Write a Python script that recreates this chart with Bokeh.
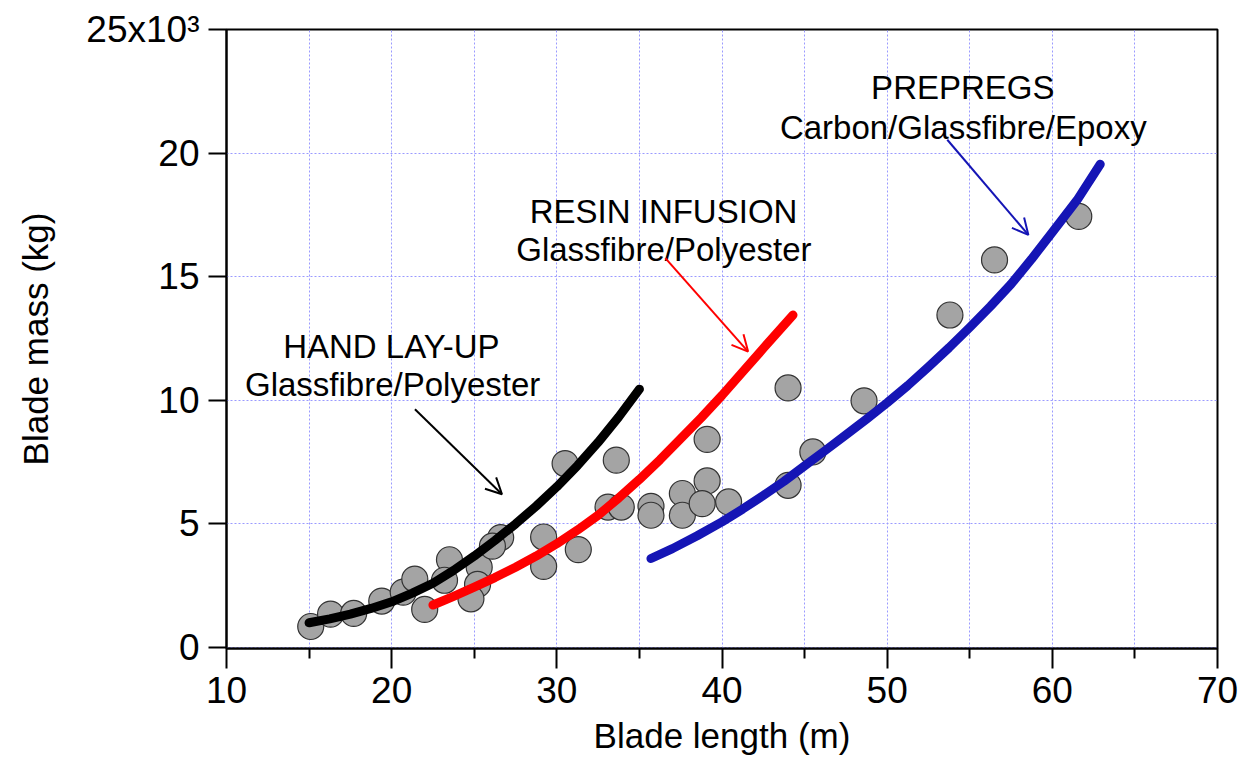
from bokeh.plotting import figure
from bokeh.models import Range1d, FixedTicker, Label, Arrow, OpenHead
from bokeh.embed import file_html
from bokeh.resources import INLINE

# ---- data (blade length in m, blade mass in thousands of kg) ----
pts_len = [15.1, 16.3, 17.7, 19.4, 20.7, 21.4, 22.0, 23.5, 23.2, 25.3, 25.2, 24.8,
           26.6, 26.1, 29.2, 29.2, 31.3, 30.5, 33.6, 33.1, 33.9, 35.7, 35.7, 37.6,
           37.6, 39.1, 38.8, 40.4, 39.1, 44.0, 48.6, 45.5, 44.0, 53.8, 56.5, 61.6]
pts_mass = [0.85, 1.35, 1.38, 1.88, 2.24, 2.77, 1.54, 3.55, 2.72, 3.25, 2.55, 1.97,
            4.45, 4.1, 4.47, 3.28, 3.96, 7.44, 7.58, 5.68, 5.68, 5.71, 5.35, 6.23,
            5.35, 6.74, 5.82, 5.89, 8.42, 10.5, 9.98, 7.91, 6.56, 13.45, 15.68, 17.44]

hand_len = [15.0, 16.25, 17.5, 18.75, 20.0, 21.25, 22.5, 23.75, 25.0, 26.25, 27.5,
            28.75, 30.0, 31.25, 32.5, 33.75, 35.0]
hand_mass = [1.0, 1.16, 1.35, 1.58, 1.85, 2.2, 2.6, 3.12, 3.7, 4.33, 5.0,
             5.72, 6.5, 7.36, 8.3, 9.33, 10.45]

resin_len = [22.5, 23.75, 25.0, 26.25, 27.5, 28.75, 30.0, 31.25, 32.5, 33.75, 35.0,
             36.25, 37.5, 38.75, 40.0, 41.25, 42.5, 44.3]
resin_mass = [1.72, 2.07, 2.44, 2.83, 3.25, 3.7, 4.2, 4.75, 5.35, 6.05, 6.8,
              7.6, 8.45, 9.3, 10.2, 11.15, 12.1, 13.45]

prepreg_len = [35.7, 37.0, 38.5, 40.0, 41.25, 42.5, 43.75, 45.0, 46.25, 47.5, 48.75, 50.0,
               51.25, 52.5, 53.75, 55.0, 56.25, 57.5, 58.75, 60.0, 61.5, 62.9]
prepreg_mass = [3.6, 4.0, 4.52, 5.08, 5.6, 6.15, 6.72, 7.35, 7.97, 8.6, 9.24, 9.9,
                10.6, 11.35, 12.13, 12.95, 13.8, 14.7, 15.72, 16.8, 18.1, 19.55]

x_ticks = [10, 20, 30, 40, 50, 60, 70]
x_minor = [15, 25, 35, 45, 55, 65]
y_ticks = [0, 5, 10, 15, 20, 25]
y_tick_labels = {0: "0", 5: "5", 10: "10", 15: "15", 20: "20", 25: "25x10\u00b3"}

FONT = "Liberation Sans"
BLUE = "#1515b5"
RED = "#ff0000"
GRID = "#9a9aff"

p = figure(width=1238, height=764, output_backend="svg", toolbar_location=None,
           x_range=Range1d(10, 70), y_range=Range1d(-0.04, 25),
           min_border_left=226, min_border_right=21, min_border_top=29,
           min_border_bottom=116)
p.background_fill_color = "white"
p.border_fill_color = "white"
p.outline_line_color = "black"
p.outline_line_width = 2

# axes
p.xaxis.ticker = FixedTicker(ticks=x_ticks, minor_ticks=x_minor)
p.yaxis.ticker = FixedTicker(ticks=y_ticks)
p.yaxis.major_label_overrides = y_tick_labels
for ax in (p.xaxis[0], p.yaxis[0]):
    ax.axis_line_color = "black"
    ax.axis_line_width = 2
    ax.major_tick_line_color = "black"
    ax.major_tick_line_width = 2
    ax.major_tick_in = 0
    ax.minor_tick_in = 0
    ax.major_label_text_font = FONT
    ax.major_label_text_font_size = "37px"
    ax.major_label_text_color = "black"
    ax.axis_label_text_font = FONT
    ax.axis_label_text_font_size = "35px"
    ax.axis_label_text_font_style = "normal"
    ax.axis_label_text_color = "black"
p.xaxis.major_tick_out = 20
p.xaxis.minor_tick_out = 10
p.xaxis.minor_tick_line_color = "black"
p.xaxis.minor_tick_line_width = 2
p.xaxis.major_label_standoff = 8
p.xaxis.axis_label = "Blade length (m)"
p.xaxis.axis_label_standoff = 10
p.yaxis.major_tick_out = 18
p.yaxis.minor_tick_line_color = None
p.yaxis.major_label_standoff = 9
p.yaxis.axis_label = "Blade mass (kg)"
p.yaxis.axis_label_standoff = 28

# grid
p.xgrid.grid_line_color = GRID
p.xgrid.grid_line_dash = "2 2"
p.xgrid.grid_line_width = 1
p.xgrid.minor_grid_line_color = GRID
p.xgrid.minor_grid_line_dash = "2 2"
p.xgrid.minor_grid_line_width = 1
p.ygrid.grid_line_color = GRID
p.ygrid.grid_line_dash = "2 2"
p.ygrid.grid_line_width = 1

# data points
p.scatter(pts_len, pts_mass, size=26, fill_color="#a4a4a4", line_color="#333333",
          line_width=1.2)

# fitted curves
p.line(hand_len, hand_mass, line_color="black", line_width=9, line_cap="round", line_join="round")
p.line(resin_len, resin_mass, line_color=RED, line_width=9, line_cap="round", line_join="round")
p.line(prepreg_len, prepreg_mass, line_color=BLUE, line_width=9, line_cap="round", line_join="round")

# annotation texts
def txt(x, y, s, size="33px"):
    p.add_layout(Label(x=x, y=y, text=s, text_font=FONT, text_font_size=size,
                       text_align="center", text_baseline="alphabetic",
                       text_color="black"))

txt(19.98, 12.17, "HAND LAY-UP")
txt(20.06, 10.62, "Glassfibre/Polyester")
txt(36.46, 17.64, "RESIN INFUSION")
txt(36.48, 16.09, "Glassfibre/Polyester")
txt(54.58, 22.65, "PREPREGS")
txt(54.61, 21.03, "Carbon/Glassfibre/Epoxy")

# arrows
def arr(x0, y0, x1, y1, color):
    p.add_layout(Arrow(end=OpenHead(size=16, line_color=color, line_width=2),
                       x_start=x0, y_start=y0, x_end=x1, y_end=y1,
                       line_color=color, line_width=2))

arr(21.41, 9.64, 26.68, 6.2, "black")
arr(36.57, 15.75, 41.58, 11.97, RED)
arr(53.64, 20.54, 58.55, 16.69, BLUE)

open("out.html", "w").write(file_html(p, INLINE))
